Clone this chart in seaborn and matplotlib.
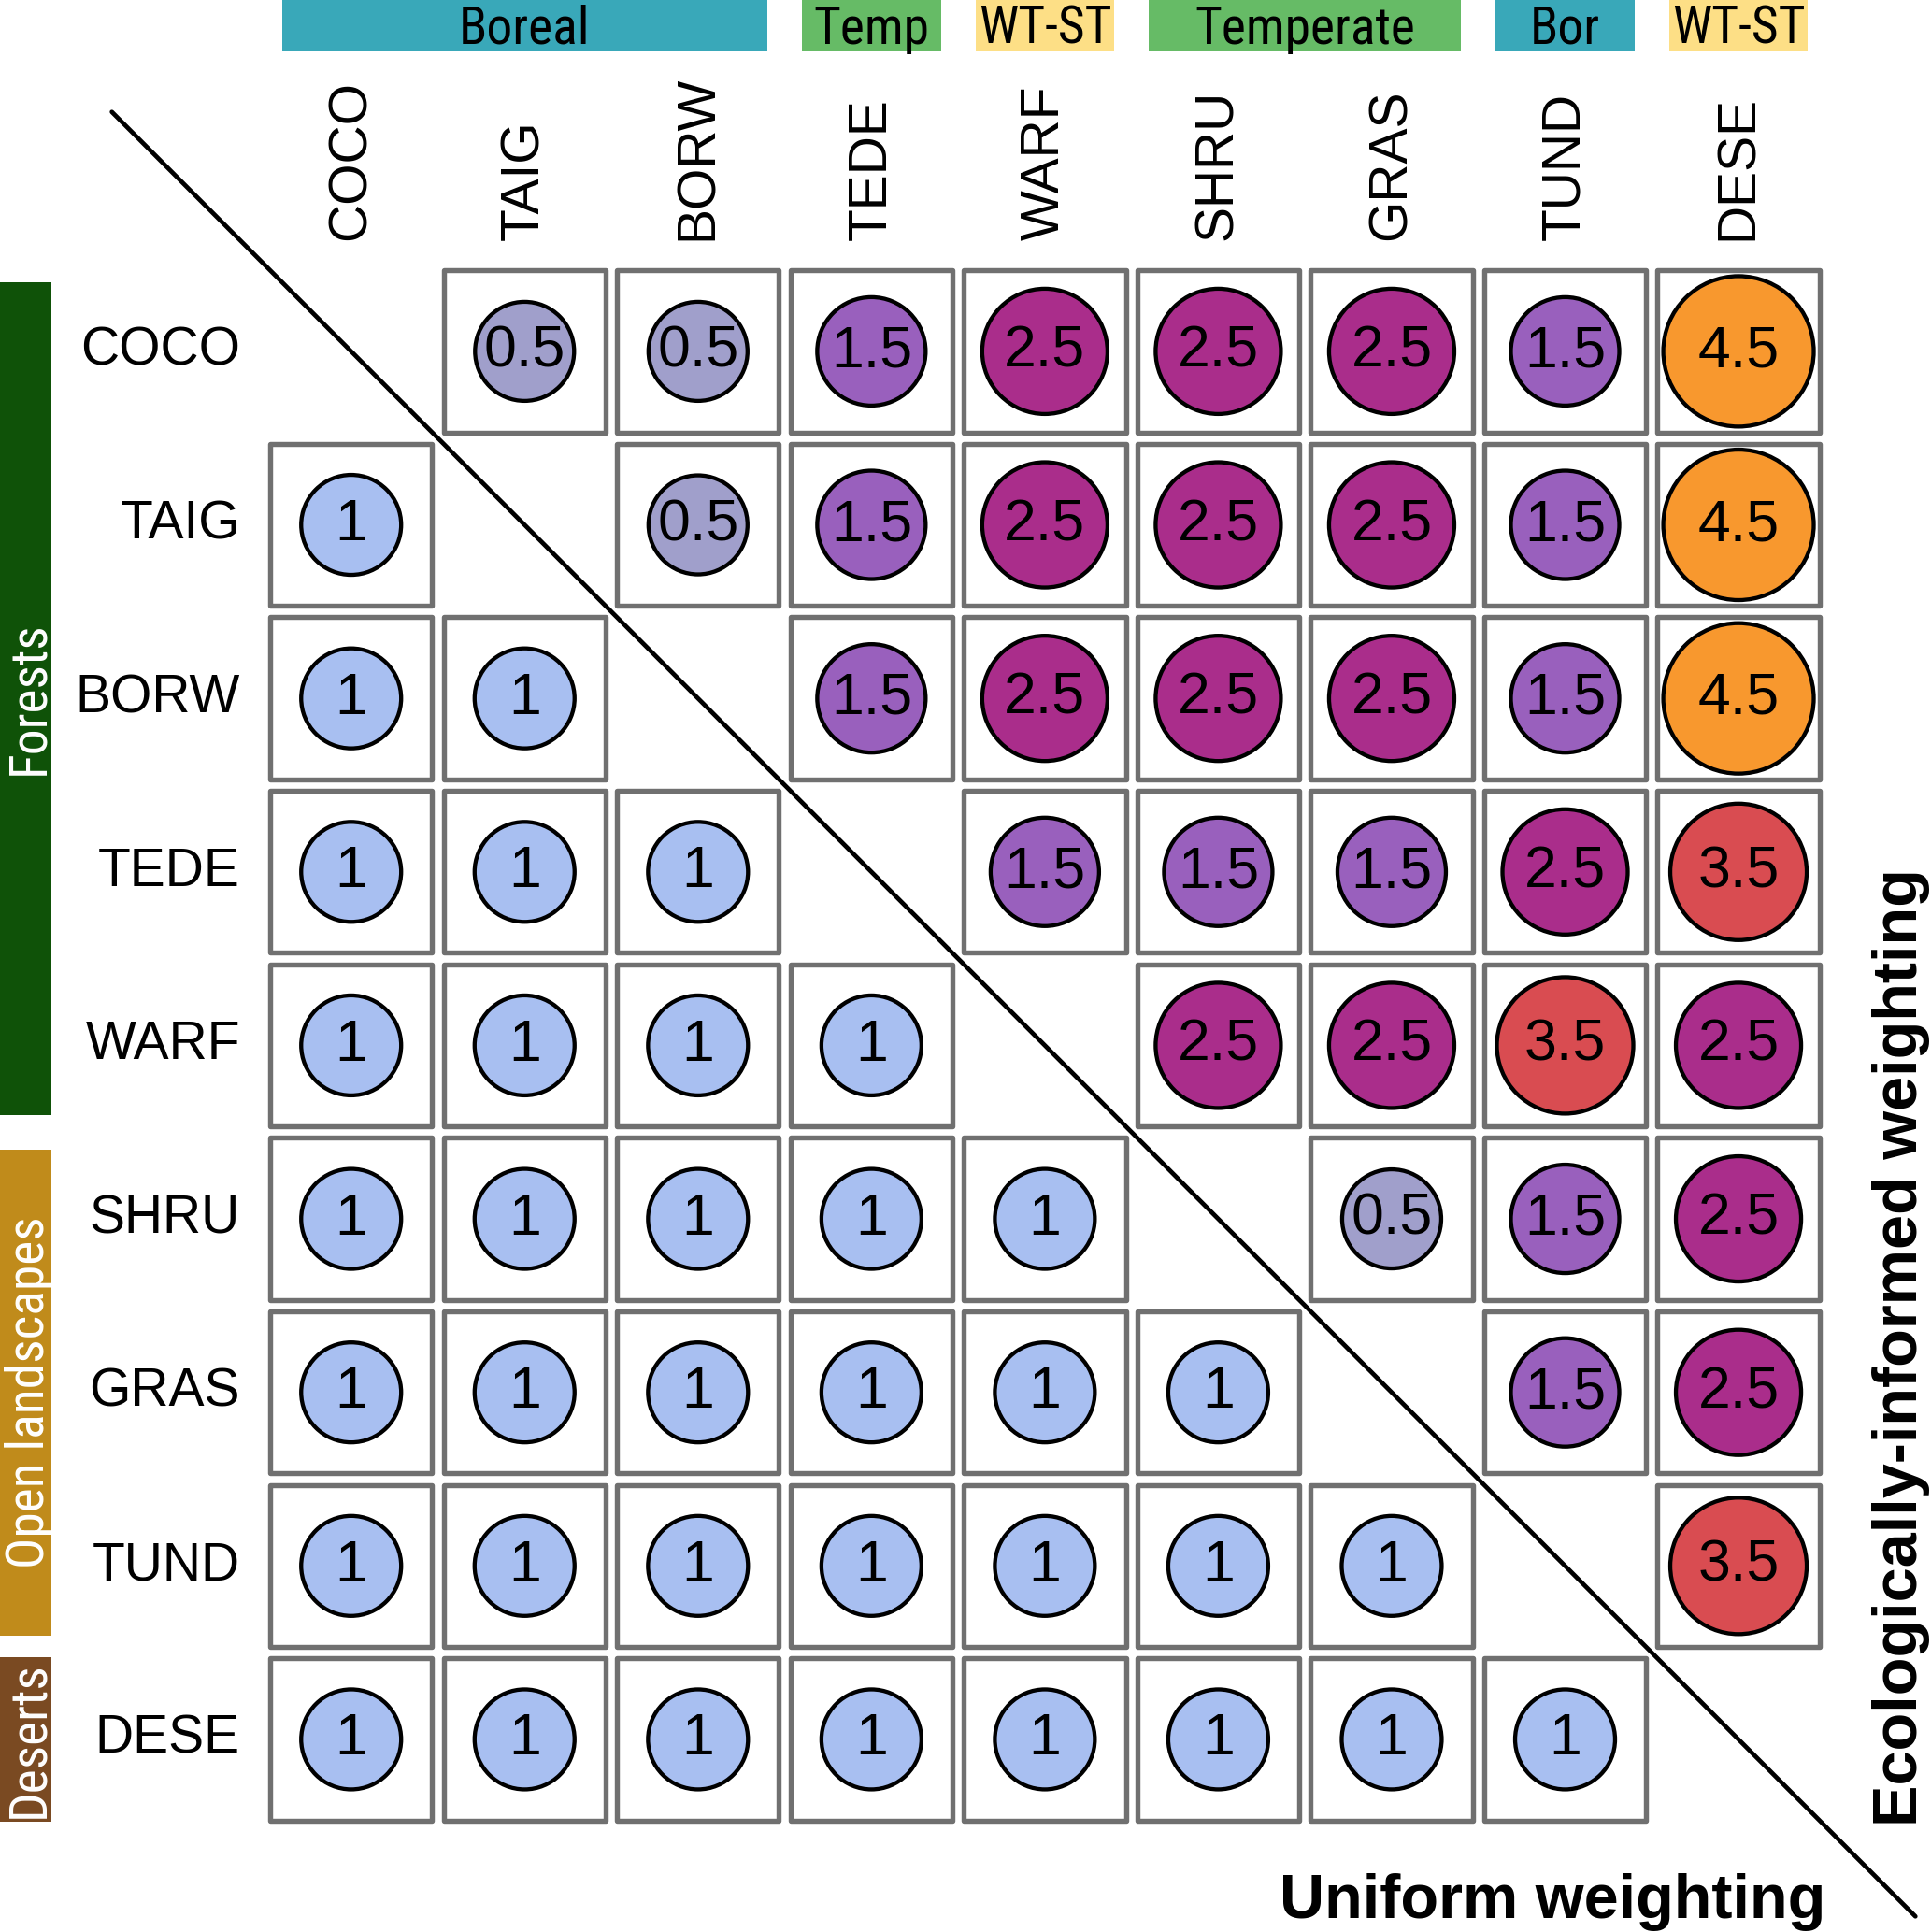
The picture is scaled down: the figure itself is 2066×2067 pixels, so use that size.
import numpy as np
import pandas as pd
import matplotlib
matplotlib.use("Agg")
import matplotlib.pyplot as plt
import matplotlib.font_manager as fm
from matplotlib.patches import Rectangle
import seaborn as sns

# Biome codes (rows and columns share the same order)
biomes = ["COCO", "TAIG", "BORW", "TEDE", "WARF", "SHRU", "GRAS", "TUND", "DESE"]

# upper triangle: ecologically-informed weighting, lower triangle: uniform weighting
weights = [
    [None, 0.5, 0.5, 1.5, 2.5, 2.5, 2.5, 1.5, 4.5],
    [1, None, 0.5, 1.5, 2.5, 2.5, 2.5, 1.5, 4.5],
    [1, 1, None, 1.5, 2.5, 2.5, 2.5, 1.5, 4.5],
    [1, 1, 1, None, 1.5, 1.5, 1.5, 2.5, 3.5],
    [1, 1, 1, 1, None, 2.5, 2.5, 3.5, 2.5],
    [1, 1, 1, 1, 1, None, 0.5, 1.5, 2.5],
    [1, 1, 1, 1, 1, 1, None, 1.5, 2.5],
    [1, 1, 1, 1, 1, 1, 1, None, 3.5],
    [1, 1, 1, 1, 1, 1, 1, 1, None],
]

weight_colors = {0.5: "#a09fcb", 1: "#a8bff1", 1.5: "#9960bd",
                 2.5: "#aa2d8b", 3.5: "#d94c51", 4.5: "#f8982e"}
# marker areas (pt^2) per weight
weight_sizes = {0.5: 5822, 1: 5930, 1.5: 6975, 2.5: 9310, 3.5: 11050, 4.5: 13430}

col_group_labels = ["Boreal", "Temp", "WT-ST", "Temperate", "Bor", "WT-ST"]
col_group_sizes = [3, 1, 1, 2, 1, 1]
col_group_colors = ["#39a8b9", "#66bb66", "#fddf86", "#66bb66", "#39a8b9", "#fddf86"]

row_group_labels = ["Forests", "Open landscapes", "Deserts"]
row_group_sizes = [5, 3, 1]
row_group_colors = ["#0f5208", "#c08b1b", "#7a4a22"]

sns.set_theme(style="white")
plt.rcParams["font.family"] = ["Liberation Sans", "DejaVu Sans"]
plt.rcParams["text.color"] = "black"

names = {f.name for f in fm.fontManager.ttflist}
narrow = dict(family=["DejaVu Sans"], fontstretch="condensed")
for cand in ["Liberation Sans Narrow", "Roboto Condensed", "Open Sans Condensed"]:
    if cand in names:
        narrow = dict(family=[cand, "DejaVu Sans"])
        break

# long-form table of the cells
rows = []
for r, row in enumerate(weights):
    for c, w in enumerate(row):
        if w is not None:
            rows.append({"row": r, "col": c, "weight": w})
df = pd.DataFrame(rows)

fig = plt.figure(figsize=(20.66, 20.67), dpi=100)
ax = fig.add_axes([0, 0, 1, 1])

# grid occupies -0.5..8.5, margins in data units
lo, hi = -2.025, 9.11

# grey cell boxes
for _, d in df.iterrows():
    ax.add_patch(Rectangle((d["col"] - 0.467, d["row"] - 0.467), 0.934, 0.934,
                           facecolor="white", edgecolor="#707070", lw=3.9,
                           joinstyle="round", zorder=1))

sns.scatterplot(data=df, x="col", y="row", hue="weight", size="weight",
                palette=weight_colors, sizes=weight_sizes,
                edgecolor="black", linewidth=3.1, legend=False, ax=ax, zorder=3)
ax.set_xlim(lo, hi)
ax.set_ylim(hi, lo)
ax.axis("off")

for _, d in df.iterrows():
    ax.text(d["col"], d["row"], f"{d['weight']:g}", ha="center", va="center",
            fontsize=45, color="black", zorder=4)

# row / column labels
for i, b in enumerate(biomes):
    ax.text(-0.64, i, b, ha="right", va="center", fontsize=41)
    ax.text(i, -0.64, b, ha="left", va="center", rotation=90,
            rotation_mode="anchor", fontsize=41)

# diagonal separator
ax.plot([-1.38, 9.02], [-1.38, 9.02], color="black", lw=3.4, zorder=5,
        solid_capstyle="round")

ax.text(8.5, 9.03, "Uniform weighting", ha="right", va="baseline",
        fontsize=48, fontweight="bold")
ax.text(9.03, 8.5, "Ecologically-informed weighting", ha="left", va="baseline",
        rotation=90, rotation_mode="anchor", fontsize=48, fontweight="bold")

# group strips
band = 0.296
fig.canvas.draw()
renderer = fig.canvas.get_renderer()
inv = ax.transData.inverted()

start = 0
for label, n, color in zip(col_group_labels, col_group_sizes, col_group_colors):
    mid = start + (n - 1) / 2
    t = ax.text(mid, lo + band / 2 + 0.02, label, ha="center", va="center",
                fontsize=40, color="black", zorder=3, **narrow)
    bb = t.get_window_extent(renderer).transformed(inv)
    x0 = min(start - 0.4, bb.x0 - 0.01)
    x1 = max(start + n - 1 + 0.4, bb.x1 + 0.01)
    ax.add_patch(Rectangle((x0, lo), x1 - x0, band, facecolor=color,
                           edgecolor="none", zorder=2))
    start += n

start = 0
for label, n, color in zip(row_group_labels, row_group_sizes, row_group_colors):
    mid = start + (n - 1) / 2
    t = ax.text(lo + band / 2 + 0.02, mid, label, ha="center", va="center",
                rotation=90, fontsize=40, color="white", zorder=3, **narrow)
    bb = t.get_window_extent(renderer).transformed(inv)
    ys = sorted([bb.y0, bb.y1])
    y0 = min(start - 0.4, ys[0] - 0.02)
    y1 = max(start + n - 1 + 0.4, ys[1] + 0.02)
    ax.add_patch(Rectangle((lo, y0), band, y1 - y0, facecolor=color,
                           edgecolor="none", zorder=2))
    start += n

fig.savefig("out.png", dpi=100, facecolor="white")
